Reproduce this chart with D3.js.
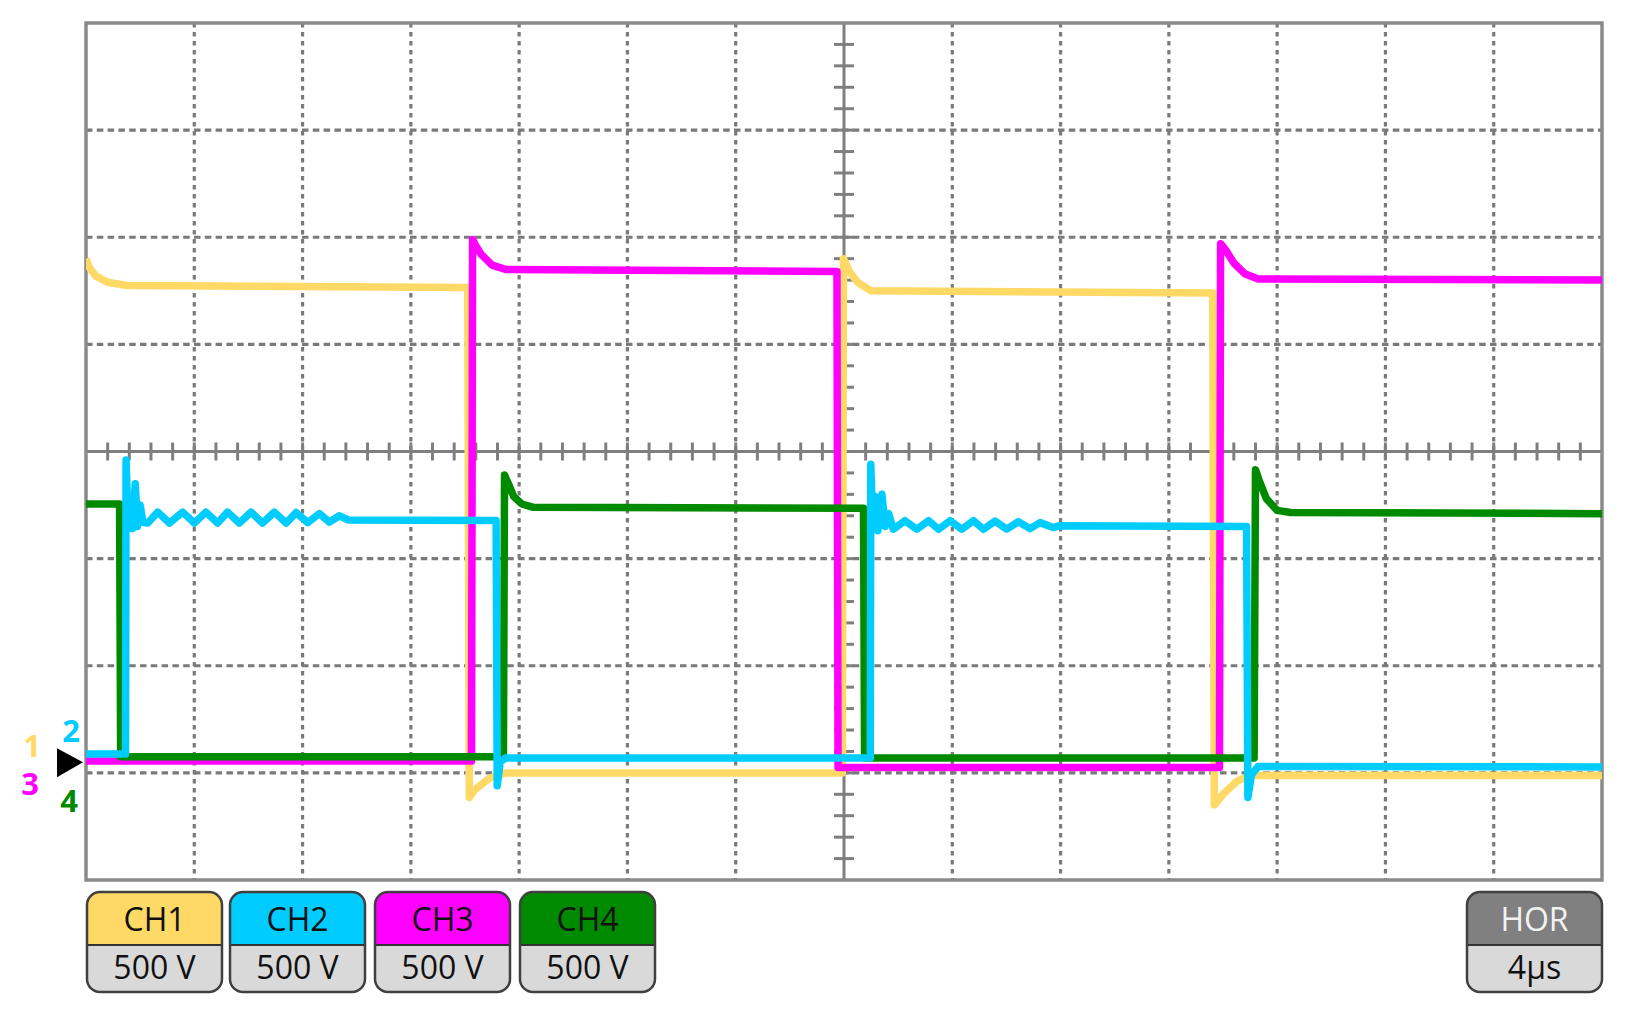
<!DOCTYPE html>
<html>
<head>
<meta charset="utf-8">
<script src="https://cdn.jsdelivr.net/npm/d3@7"></script>
<style>
  body { margin: 0; background: #fff; }
  svg { display: block; }
  text { font-family: "Open Sans", "DejaVu Sans", sans-serif; }
</style>
</head>
<body>
<div id="scope"></div>
<script>
// Oscilloscope capture: 4 channels, 500 V/div, 4 µs/div
// each trace is [time µs, volts]
const ch1 = [
    [0, 2350], [0.12, 2310], [0.35, 2270], [0.8, 2240], [1.5, 2225], [14.0, 2215],
    [14.1, 2215], [14.16, -165], [14.35, -130], [14.9, -75], [15.5, -50], [27.94, -50],
    [27.98, 2350], [28.2, 2290], [28.5, 2240], [29.0, 2200], [41.62, 2190],
    [41.68, -200], [42.0, -150], [42.5, -90], [43.0, -62], [56, -62]
];
const ch2 = [
    [0, 38], [1.46, 38], [1.48, 1410], [1.56, 1100], [1.64, 1230], [1.72, 1090],
    [1.82, 1300], [1.9, 1100], [2.0, 1200], [2.1, 1120],
    [2.28, 1116], [2.65, 1167], [3.08, 1116], [3.57, 1167], [4.0, 1116], [4.43, 1167],
    [4.86, 1116], [5.23, 1167], [5.66, 1116], [6.1, 1167], [6.52, 1116], [6.96, 1167],
    [7.39, 1116], [7.76, 1165], [8.19, 1118], [8.62, 1160], [8.99, 1120], [9.36, 1150],
    [9.7, 1130], [15.15, 1128],
    [15.19, -110], [15.3, 0], [15.5, 20], [28.97, 20],
    [28.99, 1390], [29.06, 1100], [29.15, 1240], [29.25, 1080], [29.4, 1250], [29.52, 1100],
    [29.65, 1160], [29.82, 1087], [30.25, 1127], [30.69, 1087], [31.12, 1127], [31.49, 1087],
    [31.92, 1127], [32.35, 1087], [32.78, 1127], [33.15, 1087], [33.58, 1125], [34.01, 1088],
    [34.44, 1122], [34.87, 1090], [35.24, 1118], [35.73, 1095], [35.95, 1103], [42.87, 1100],
    [42.92, -165], [43.05, -60], [43.3, -20], [56, -22]
];
const ch3 = [
    [0, 5], [14.24, 5], [14.28, 2440], [14.4, 2410], [14.6, 2370], [15.0, 2320],
    [15.5, 2300], [27.74, 2290], [27.78, -25], [41.87, -25],
    [41.91, 2420], [42.1, 2390], [42.4, 2330], [42.8, 2280], [43.3, 2255], [56, 2250]
];
const ch4 = [
    [0, 1205], [1.24, 1205], [1.28, 25], [15.42, 25], [15.46, 1340], [15.6, 1300],
    [15.8, 1240], [16.1, 1205], [16.5, 1190], [28.72, 1185], [28.76, 20],
    [43.15, 20], [43.2, 1365], [43.35, 1310], [43.6, 1230], [44.0, 1175], [44.5, 1165], [56, 1160]
];

const channelNames = ["CH1", "CH2", "CH3", "CH4"];
const channelScales = ["500 V", "500 V", "500 V", "500 V"];
const channelColors = ["#ffd966", "#00ccff", "#ff00ff", "#008a00"];
const horLabel = "HOR";
const horScale = "4µs";

const VOLTS_PER_DIV = 500;
const GROUND_DIV = -2.9;   // ground marker position, in divisions from centre

const W = 1627, H = 1021;
const plot = { left: 86, right: 1602, top: 23, bottom: 880 };

d3.select("#scope").selectAll("*").remove();
const svg = d3.select("#scope").append("svg")
    .attr("width", W)
    .attr("height", H);

svg.append("rect").attr("width", W).attr("height", H).attr("fill", "#fff");

// Scales
const xDiv = d3.scaleLinear().domain([0, 14]).range([plot.left, plot.right]);
const yDiv = d3.scaleLinear().domain([-4, 4]).range([plot.bottom, plot.top]);
const xScale = d3.scaleLinear().domain([0, 56]).range([plot.left, plot.right]);
const yVolt = v => yDiv(v / VOLTS_PER_DIV + GROUND_DIV);

// Grid
const grid = svg.append("g").attr("stroke", "#7a7a7a").attr("stroke-width", 3.2);
grid.selectAll(".vgrid")
    .data(d3.range(1, 14).filter(k => k !== 7))
    .enter().append("line")
    .attr("x1", d => xDiv(d)).attr("x2", d => xDiv(d))
    .attr("y1", plot.top).attr("y2", plot.bottom)
    .attr("stroke-dasharray", "4.5,4.5");
grid.selectAll(".hgrid")
    .data(d3.range(-3, 4).filter(k => k !== 0))
    .enter().append("line")
    .attr("x1", plot.left).attr("x2", plot.right)
    .attr("y1", d => yDiv(d)).attr("y2", d => yDiv(d))
    .attr("stroke-dasharray", "6.5,4.3");

// Centre axes with minor ticks
const axes = svg.append("g").attr("stroke", "#7f7f7f").attr("stroke-width", 3);
axes.append("line")
    .attr("x1", plot.left).attr("x2", plot.right)
    .attr("y1", yDiv(0)).attr("y2", yDiv(0));
axes.append("line")
    .attr("x1", xDiv(7)).attr("x2", xDiv(7))
    .attr("y1", plot.top).attr("y2", plot.bottom);
axes.selectAll(".xtick")
    .data(d3.range(1, 70))
    .enter().append("line")
    .attr("x1", d => xDiv(d / 5)).attr("x2", d => xDiv(d / 5))
    .attr("y1", yDiv(0) - 9).attr("y2", yDiv(0) + 9);
axes.selectAll(".ytick")
    .data(d3.range(-19, 20))
    .enter().append("line")
    .attr("x1", xDiv(7) - 10).attr("x2", xDiv(7) + 10)
    .attr("y1", d => yDiv(d / 5)).attr("y2", d => yDiv(d / 5));

// Frame
svg.append("rect")
    .attr("x", plot.left).attr("y", plot.top)
    .attr("width", plot.right - plot.left).attr("height", plot.bottom - plot.top)
    .attr("fill", "none")
    .attr("stroke", "#8a8a8a")
    .attr("stroke-width", 3.5);

// Traces (drawing order: CH1, CH3, CH4, CH2)
const line = d3.line()
    .x(d => xScale(d[0]))
    .y(d => yVolt(d[1]));

const traces = [
    { data: ch1, color: channelColors[0] },
    { data: ch3, color: channelColors[2] },
    { data: ch4, color: channelColors[3] },
    { data: ch2, color: channelColors[1] }
];
svg.append("clipPath").attr("id", "plot-clip")
    .append("rect")
    .attr("x", plot.left).attr("y", plot.top)
    .attr("width", plot.right - plot.left).attr("height", plot.bottom - plot.top);

svg.append("g")
    .attr("clip-path", "url(#plot-clip)")
    .selectAll(".trace")
    .data(traces)
    .enter().append("path")
    .attr("class", "trace")
    .attr("d", d => line(d.data))
    .attr("fill", "none")
    .attr("stroke", d => d.color)
    .attr("stroke-width", 7.5)
    .attr("stroke-linejoin", "round");

// Ground marker + channel numbers
const gy = yVolt(0);
svg.append("path")
    .attr("d", `M57,${gy - 14} L83,${gy} L57,${gy + 15} Z`)
    .attr("fill", "#000");
const markers = [
    { label: "1", x: 32, y: gy - 5, color: channelColors[0] },
    { label: "2", x: 71, y: gy - 20, color: channelColors[1] },
    { label: "3", x: 30, y: gy + 33, color: channelColors[2] },
    { label: "4", x: 69, y: gy + 50, color: channelColors[3] }
];
svg.selectAll(".gnd-label")
    .data(markers)
    .enter().append("text")
    .attr("x", d => d.x).attr("y", d => d.y)
    .attr("text-anchor", "middle")
    .attr("font-size", 31)
    .attr("font-weight", "bold")
    .attr("fill", d => d.color)
    .text(d => d.label);

// Channel legend boxes
const boxW = 135, boxTop = 892, boxMid = 945, boxBot = 992;
const boxX = [87, 230, 375, 520];

function drawBox(g, x, w, headFill, headText, headColor, bodyText) {
    const r = 13;
    const clipId = "box-" + Math.round(x);
    g.append("clipPath").attr("id", clipId)
        .append("rect")
        .attr("x", x).attr("y", boxTop).attr("width", w).attr("height", boxBot - boxTop)
        .attr("rx", r);
    const inner = g.append("g").attr("clip-path", `url(#${clipId})`);
    inner.append("rect")
        .attr("x", x).attr("y", boxTop).attr("width", w).attr("height", boxMid - boxTop)
        .attr("fill", headFill);
    inner.append("rect")
        .attr("x", x).attr("y", boxMid).attr("width", w).attr("height", boxBot - boxMid)
        .attr("fill", "#d9d9d9");
    g.append("line")
        .attr("x1", x).attr("x2", x + w).attr("y1", boxMid).attr("y2", boxMid)
        .attr("stroke", "#333").attr("stroke-width", 2);
    g.append("rect")
        .attr("x", x).attr("y", boxTop).attr("width", w).attr("height", boxBot - boxTop)
        .attr("rx", r)
        .attr("fill", "none").attr("stroke", "#404040").attr("stroke-width", 2.5);
    g.append("text")
        .attr("x", x + w / 2).attr("y", boxTop + 39)
        .attr("text-anchor", "middle")
        .attr("font-size", 32)
        .attr("fill", headColor)
        .text(headText);
    g.append("text")
        .attr("x", x + w / 2).attr("y", boxBot - 13)
        .attr("text-anchor", "middle")
        .attr("font-size", 32)
        .attr("fill", "#111")
        .text(bodyText);
}

const legend = svg.append("g");
channelNames.forEach((name, i) => {
    drawBox(legend, boxX[i], boxW, channelColors[i], name, "#111", channelScales[i]);
});
drawBox(legend, 1467, 135, "#808080", horLabel, "#f2f2f2", horScale);
</script>
</body>
</html>
